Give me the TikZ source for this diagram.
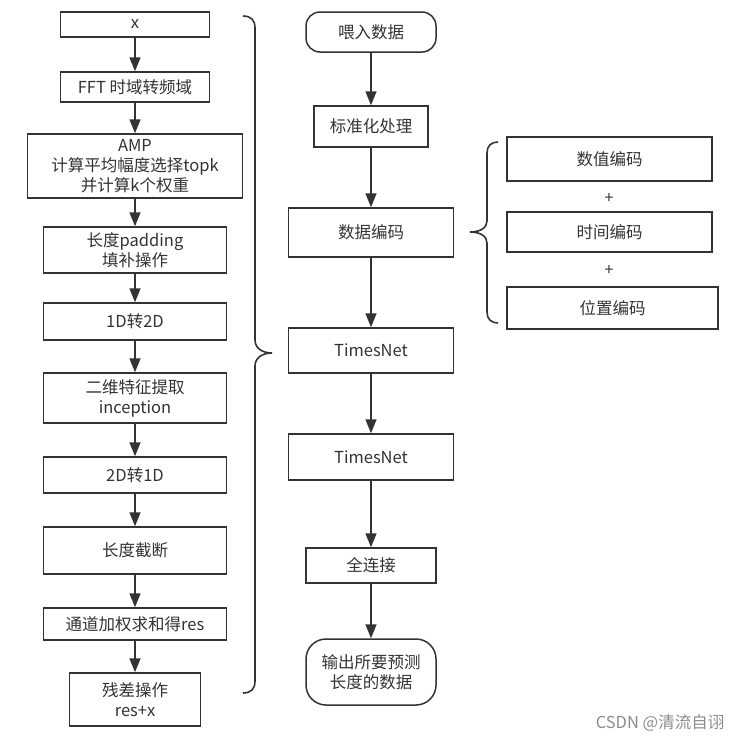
\documentclass[tikz,border=0pt]{standalone}
\usepackage{fontspec}
\setmainfont{Noto Sans CJK SC}
\usetikzlibrary{arrows.meta}
\definecolor{ln}{HTML}{333333}
\begin{document}
\begin{tikzpicture}[x=1pt,y=-1pt,
 box/.style={draw=ln, line width=1.5pt, inner sep=0pt, align=center, text=ln, font=\fontsize{16.5}{20}\selectfont},
 rbox/.style={box, rounded corners=14pt},
 arr/.style={draw=ln, line width=1.6pt, -{Triangle[width=11pt,length=14pt]}},
 bracepath/.style={draw=ln, line width=1.6pt},
 plus/.style={text=ln, font=\fontsize{16}{16}\selectfont, inner sep=0pt}]
\useasboundingbox (0,0) rectangle (744,742);
% left column
\node[box, minimum width=149pt, minimum height=25pt] (nx) at (135,24.5) {x};
\node[box, minimum width=149pt, minimum height=30pt] (nfft) at (135,87) {FFT 时域转频域};
\node[box, minimum width=215pt, minimum height=64pt] (namp) at (135,166) {AMP\\计算平均幅度选择topk\\并计算k个权重};
\node[box, minimum width=183pt, minimum height=46pt] (npad) at (135,250) {长度padding\\填补操作};
\node[box, minimum width=183pt, minimum height=37pt] (n12) at (135,321.5) {1D转2D};
\node[box, minimum width=183pt, minimum height=50pt] (ninc) at (135,398) {二维特征提取\\inception};
\node[box, minimum width=183pt, minimum height=36pt] (n21) at (135,475) {2D转1D};
\node[box, minimum width=183pt, minimum height=47pt] (ntr) at (135,550.5) {长度截断};
\node[box, minimum width=183pt, minimum height=32pt] (nsum) at (135,624) {通道加权求和得res};
\node[box, minimum width=131pt, minimum height=53pt] (nres) at (135,699.5) {残差操作\\res+x};
\draw[arr] (nx) -- (nfft);
\draw[arr] (nfft) -- (namp);
\draw[arr] (namp) -- (npad);
\draw[arr] (npad) -- (n12);
\draw[arr] (n12) -- (ninc);
\draw[arr] (ninc) -- (n21);
\draw[arr] (n21) -- (ntr);
\draw[arr] (ntr) -- (nsum);
\draw[arr] (nsum) -- (nres);
% left brace
\draw[bracepath] (243,16) .. controls (251,16) and (255,20) .. (255,28) -- (255,340)
  .. controls (255,348) and (262,353) .. (272,353)
  .. controls (262,353) and (255,358) .. (255,366) -- (255,681)
  .. controls (255,689) and (251,693) .. (243,693);
% right column
\node[rbox, minimum width=130pt, minimum height=40pt] (nfeed) at (371,32) {喂入数据};
\node[box, minimum width=114pt, minimum height=41pt] (nnorm) at (371,126.5) {标准化处理};
\node[box, minimum width=165pt, minimum height=49pt] (nenc) at (371,232.5) {数据编码};
\node[box, minimum width=165pt, minimum height=45pt] (ntn1) at (371,350.5) {TimesNet};
\node[box, minimum width=165pt, minimum height=46pt] (ntn2) at (371,457) {TimesNet};
\node[box, minimum width=130pt, minimum height=35pt] (nfc) at (371,565.5) {全连接};
\node[rbox, rounded corners=20pt, minimum width=130pt, minimum height=66pt] (nout) at (371,672) {输出所要预测\\长度的数据};
\draw[arr] (nfeed) -- (nnorm);
\draw[arr] (nnorm) -- (nenc);
\draw[arr] (nenc) -- (ntn1);
\draw[arr] (ntn1) -- (ntn2);
\draw[arr] (ntn2) -- (nfc);
\draw[arr] (nfc) -- (nout);
% encodings
\node[box, minimum width=205pt, minimum height=44pt] (nval) at (609.5,159) {数值编码};
\node[box, minimum width=205pt, minimum height=40pt] (ntime) at (609.5,232) {时间编码};
\node[box, minimum width=211pt, minimum height=42pt] (npos) at (612.5,308) {位置编码};
\node[plus] (p1) at (609,199) {+};
\node[plus] (p2) at (609,271) {+};
% right brace
\draw[bracepath] (498,142) .. controls (491,142) and (487,146) .. (487,153) -- (487,221)
  .. controls (487,228) and (480,232) .. (470,232)
  .. controls (480,232) and (487,236) .. (487,243) -- (487,312)
  .. controls (487,319) and (491,323) .. (498,323);
% watermark
\node[text=black!45, font=\fontsize{16.5}{16.5}\selectfont, inner sep=0pt] (wm) at (660,723) {CSDN @清流自诩};
\end{tikzpicture}
\end{document}
